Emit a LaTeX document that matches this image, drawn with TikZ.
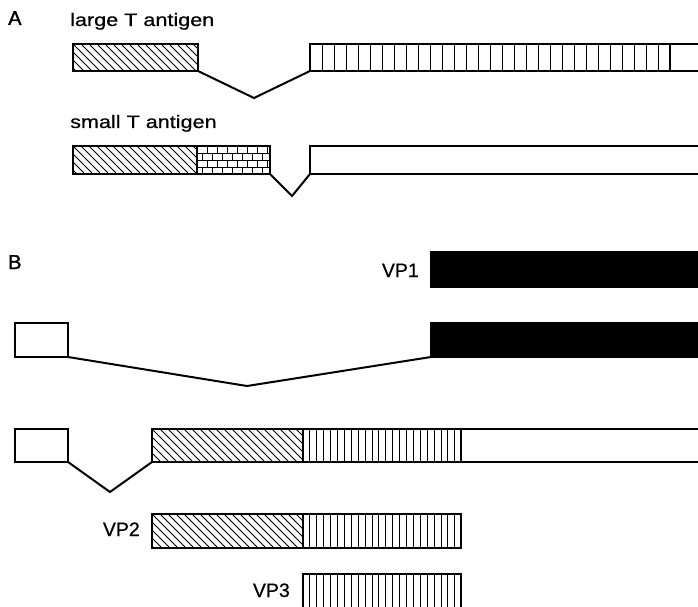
\documentclass[tikz,border=0pt]{standalone}
\usepackage{fontspec}
\usetikzlibrary{calc}
\newfontfamily\afont[FakeStretch=1.2, FakeBold=0.6]{Liberation Sans}
\newfontfamily\bfont[FakeBold=0.6]{Liberation Sans}
\newfontfamily\hfont[FakeBold=1.6]{Liberation Sans}
\tikzset{
  seg/.style={draw, line width=2.2pt, rectangle, inner sep=0pt, outer sep=0pt, anchor=north west},
  intron/.style={line width=2pt, line join=miter},
  hatch/.style={path picture={
    \foreach \k in {-5,...,25}
      \draw[line width=1pt] ($(path picture bounding box.north west)+(\k*8,0)$) -- ++(45,45);
  }},
  vstripes/.style 2 args={path picture={
    \foreach \k in {1,...,#2}
      \draw[line width=1pt] ($(path picture bounding box.north west)+(\k*#1,0)$) -- ++(0,50);
  }},
  brick/.style={path picture={
    \foreach \r in {1,2,3}
      \draw[line width=0.9pt] ($(path picture bounding box.north west)+(0,\r*7)$) -- ++(100,0);
    \foreach \r in {0,1,2,3}
      \foreach \c in {0,...,8}
        \draw[line width=0.9pt] ($(path picture bounding box.north west)+({\c*10+mod(\r,2)*5},\r*7)$) -- ++(0,7);
  }},
  alabel/.style={inner sep=0pt, font=\afont\fontsize{18}{21}\selectfont},
  blabel/.style={inner sep=0pt, font=\bfont\fontsize{19.5}{23}\selectfont},
  hlabel/.style={inner sep=0pt, font=\hfont\fontsize{20}{23}\selectfont},
}
\begin{document}
\begin{tikzpicture}[x=1pt, y=-1pt]
\clip (0,0) rectangle (698,607);
\useasboundingbox (0,0) rectangle (698,607);
\fill[white] (0,0) rectangle (698,607);

% ---------- A ----------
\node[hlabel, anchor=base west] (labA) at (8,25) {A};
\node[alabel, anchor=base west] (labLT) at (70,26) {large T antigen};

\node[seg, hatch, minimum width=125, minimum height=27] (lt1) at (73,44) {};
\node[seg, vstripes={12}{29}, minimum width=360, minimum height=27] (lt2) at (310,44) {};
\node[seg, minimum width=60, minimum height=27] (lt3) at (670,44) {};
\coordinate (ltv) at (254,98);
\draw[intron] (lt1.south east) -- (ltv) -- (lt2.south west);

\node[alabel, anchor=base west] (labST) at (70,128) {small T antigen};
\node[seg, hatch, minimum width=124, minimum height=28] (st1) at (73,146) {};
\node[seg, brick, minimum width=73, minimum height=28] (st2) at (197,146) {};
\node[seg, minimum width=420, minimum height=28] (st3) at (310,146) {};
\coordinate (stv) at (292,196);
\draw[intron] (st2.south east) -- (stv) -- (st3.south west);

% ---------- B ----------
\node[hlabel, anchor=base west] (labB) at (8,269) {B};
\node[blabel, anchor=base east] (labVP1) at (419,277) {VP1};
\node[seg, fill=black, minimum width=290, minimum height=35] (vp1) at (431,252) {};

\node[seg, minimum width=53, minimum height=34] (r2a) at (15,323) {};
\node[seg, fill=black, minimum width=290, minimum height=34] (r2b) at (431,323) {};
\coordinate (r2v) at (247,386);
\draw[intron] (r2a.south east) -- (r2v) -- (r2b.south west);

\node[seg, minimum width=53, minimum height=33] (r3a) at (15,429) {};
\node[seg, hatch, minimum width=151, minimum height=33] (r3b) at (152,429) {};
\node[seg, vstripes={6.9}{22}, minimum width=158, minimum height=33] (r3c) at (303,429) {};
\node[seg, minimum width=260, minimum height=33] (r3d) at (461,429) {};
\coordinate (r3v) at (110,492);
\draw[intron] (r3a.south east) -- (r3v) -- (r3b.south west);

\node[blabel, anchor=base east] (labVP2) at (140,536) {VP2};
\node[seg, hatch, minimum width=151, minimum height=34] (vp2a) at (152,514) {};
\node[seg, vstripes={6.9}{22}, minimum width=158, minimum height=34] (vp2b) at (303,514) {};

\node[blabel, anchor=base east] (labVP3) at (290,597) {VP3};
\node[seg, vstripes={6.9}{22}, minimum width=158, minimum height=45] (vp3) at (303,574) {};
\end{tikzpicture}
\end{document}
